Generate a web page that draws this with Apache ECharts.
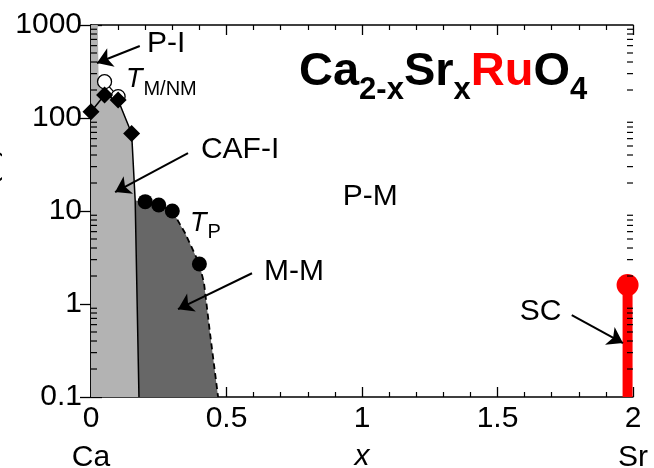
<!DOCTYPE html>
<html>
<head>
<meta charset="utf-8">
<script src="https://cdn.jsdelivr.net/npm/echarts@6/dist/echarts.min.js"></script>
<style>
html,body{margin:0;padding:0;background:#fff;}
#c{width:654px;height:468px;}
</style>
</head>
<body>
<div id="c"></div>
<script>
// ---- data ----
const xTickLabels = ['0', '0.5', '1', '1.5', '2'];
const yTickLabels = ['0.1', '1', '10', '100', '1000'];
// T_M/NM (filled diamonds)
const tmnmX = [0, 0.05, 0.1, 0.15];
const tmnmT = [117, 177, 156, 68];
// open circles
const openX = [0.05, 0.1];
const openT = [246, 170];
// T_P (filled circles)
const tpX = [0.2, 0.25, 0.3, 0.4];
const tpT = [12.6, 11.6, 10, 2.69];
// CAF-I boundary (solid)
const cafX = [0, 0.05, 0.1, 0.15, 0.163, 0.177];
const cafT = [117, 177, 156, 68, 13, 0.1];
// T_P dashed continuation
const tpDashX = [0.3, 0.347, 0.4, 0.417, 0.439, 0.469];
const tpDashT = [10, 5.8, 2.69, 1.68, 0.49, 0.1];
// light gray region (P-I strip + CAF-I)
const lightX = [0, 0.025, 0.028, 0.05, 0.1, 0.15, 0.163, 0.177, 0];
const lightT = [1000, 1000, 260, 177, 156, 68, 13, 0.1, 0.1];
// dark gray region (M-M)
const darkX = [0.163, 0.2, 0.25, 0.3, 0.347, 0.4, 0.417, 0.439, 0.469, 0.177];
const darkT = [13, 12.6, 11.6, 10, 5.8, 2.69, 1.68, 0.49, 0.1, 0.1];
// SC (Sr2RuO4)
const scX = [1.98, 1.98];
const scT = [0.1, 1.6];
// log minor tick multipliers
const minorMult = [2, 3, 4, 5, 6, 7, 8, 9];
const decades = [0.1, 1, 10, 100];

const zip = (xs, ys) => xs.map((x, i) => [x, ys[i]]);
const minorVals = [];
decades.forEach(d => minorMult.forEach(m => minorVals.push(+(d * m).toPrecision(3))));

const FONT = 'Liberation Sans, Arial, Helvetica, sans-serif';

const chart = echarts.init(document.getElementById('c'), null, {renderer: 'canvas'});

function polySeries(xs, ys, color, z) {
  return {
    type: 'custom', z: z, silent: true, clip: true,
    data: [[xs[0], ys[0]]],
    renderItem: function (params, api) {
      const pts = zip(xs, ys).map(p => api.coord(p));
      return {type: 'polygon', shape: {points: pts}, style: {fill: color, stroke: 'none'}};
    }
  };
}

function textSeries(x, y, text, rich, align, z) {
  return {
    type: 'custom', z: z || 10, silent: true, clip: false,
    data: [[x, y]],
    renderItem: function (params, api) {
      const p = api.coord([api.value(0), api.value(1)]);
      return {type: 'text', x: p[0], y: p[1],
        style: {text: text, rich: rich, align: align || 'center', verticalAlign: 'middle',
          fontFamily: FONT, fontSize: 30, fill: '#000'}};
    }
  };
}

const arrowData = [
  {coords: [[0.18, 595], [0.022, 390]]},
  {coords: [[0.358, 42], [0.089, 16]]},
  {coords: [[0.594, 2.14], [0.321, 0.88]]},
  {coords: [[1.774, 0.76], [1.963, 0.38]]}
];

const axisLine = {show: true, lineStyle: {color: '#000', width: 1.5}};

const option = {
  animation: false,
  backgroundColor: '#fff',
  textStyle: {fontFamily: FONT},
  title: {
    text: '{b|Ca}{s|2-x}{b|Sr}{s|x}{r|Ru}{b|O}{s|4}',
    left: 294, top: 44,
    textStyle: {
      rich: {
        b: {fontSize: 47, fontWeight: 'bold', color: '#000', fontFamily: FONT, lineHeight: 50, verticalAlign: 'top'},
        r: {fontSize: 47, fontWeight: 'bold', color: '#ff0000', fontFamily: FONT, lineHeight: 50, verticalAlign: 'top'},
        s: {fontSize: 31, fontWeight: 'bold', color: '#000', fontFamily: FONT, lineHeight: 34, padding: [26, 0, 0, 0], verticalAlign: 'top'}
      }
    }
  },
  grid: {left: 91, right: 21, top: 25, bottom: 71, containLabel: false, outerBoundsMode: 'none'},
  xAxis: [
    {
      type: 'value', min: 0, max: 2, interval: 0.5, position: 'bottom',
      axisLine: axisLine,
      axisTick: {show: true, inside: true, length: 10, lineStyle: {color: '#000', width: 1.3}},
      minorTick: {show: true, splitNumber: 5, length: 5, lineStyle: {color: '#000', width: 1.2}},
      splitLine: {show: false}, minorSplitLine: {show: false},
      axisLabel: {
        margin: 6, color: '#000', fontSize: 30, fontFamily: FONT,
        formatter: function (v) {
          const i = Math.round(v / 0.5);
          const t = xTickLabels[i];
          if (v === 0) return '{n|' + t + '}\n{e|Ca}';
          if (v === 2) return '{n|' + t + '}\n{e|Sr}';
          return '{n|' + t + '}';
        },
        rich: {
          n: {fontSize: 30, fontFamily: FONT, color: '#000', lineHeight: 32},
          e: {fontSize: 30, fontFamily: FONT, color: '#000', lineHeight: 46}
        }
      },
      name: 'x', nameLocation: 'middle', nameGap: 45, nameMoveOverlap: false,
      nameTextStyle: {fontSize: 30, fontStyle: 'italic', fontFamily: FONT, color: '#000'}
    },
    {
      type: 'value', min: 0, max: 2, interval: 0.5, position: 'top',
      axisLine: axisLine,
      axisTick: {show: true, inside: true, length: 10, lineStyle: {color: '#000', width: 1.3}},
      minorTick: {show: true, splitNumber: 5, length: 5, lineStyle: {color: '#000', width: 1.2}},
      splitLine: {show: false}, axisLabel: {show: false}
    }
  ],
  yAxis: [
    {
      type: 'log', logBase: 10, min: 0.1, max: 1000, position: 'left',
      axisLine: axisLine,
      axisTick: {show: true, inside: true, length: 11, lineStyle: {color: '#000', width: 1.3}},
      splitLine: {show: false},
      axisLabel: {
        margin: 9, color: '#000', fontSize: 30, fontFamily: FONT,
        formatter: function (v) {
          const i = Math.round(Math.log10(v)) + 1;
          return yTickLabels[i];
        }
      },
      name: 'T (K)', nameLocation: 'middle', nameRotate: 90, nameGap: 88, nameMoveOverlap: false,
      nameTextStyle: {fontSize: 30, fontFamily: FONT, color: '#000', padding: [0, 0, 0, 62]}
    },
    {
      type: 'log', logBase: 10, min: 0.1, max: 1000, position: 'right',
      axisLine: axisLine,
      axisTick: {show: true, inside: true, length: 11, lineStyle: {color: '#000', width: 1.3}},
      splitLine: {show: false}, axisLabel: {show: false}
    }
  ],
  series: [
    polySeries(lightX, lightT, '#b3b3b3', 1),
    polySeries(darkX, darkT, '#676767', 2),
    {
      type: 'line', z: 3, data: zip(cafX, cafT), showSymbol: false, symbol: 'none',
      lineStyle: {color: '#000', width: 1.5}, silent: true
    },
    {
      type: 'line', z: 3, data: zip(openX, openT), showSymbol: false, symbol: 'none',
      lineStyle: {color: '#000', width: 1.3}, silent: true
    },
    {
      type: 'line', z: 3, data: zip(tpX.slice(0, 3), tpT.slice(0, 3)), showSymbol: false, symbol: 'none',
      lineStyle: {color: '#000', width: 1.5}, silent: true
    },
    {
      type: 'line', z: 3, data: zip(tpDashX, tpDashT), showSymbol: false, symbol: 'none',
      lineStyle: {color: '#000', width: 1.8, type: [6, 4]}, silent: true
    },
    {
      type: 'scatter', z: 5, data: zip(openX, openT), symbol: 'circle', symbolSize: 14,
      itemStyle: {color: '#fff', borderColor: '#000', borderWidth: 1.3, opacity: 1}, silent: true
    },
    {
      type: 'scatter', z: 6, data: zip(tmnmX, tmnmT), symbol: 'diamond', symbolSize: [17, 17],
      itemStyle: {color: '#000', opacity: 1}, silent: true, clip: false
    },
    {
      type: 'scatter', z: 6, data: zip(tpX, tpT), symbol: 'circle', symbolSize: 15,
      itemStyle: {color: '#000', opacity: 1}, silent: true
    },
    {
      type: 'line', z: 7, data: zip(scX, scT), showSymbol: false, symbol: 'none',
      lineStyle: {color: '#ff0000', width: 10, cap: 'butt'}, silent: true
    },
    {
      type: 'scatter', z: 8, data: [[scX[1], scT[1]]], symbol: 'circle', symbolSize: 22,
      itemStyle: {color: '#ff0000', opacity: 1}, silent: true
    },
    {
      type: 'lines', coordinateSystem: 'cartesian2d', z: 9, silent: true,
      data: arrowData, symbol: ['none', 'arrow'], symbolSize: [1, 15],
      lineStyle: {color: '#000', width: 2, opacity: 1}
    },
    {
      type: 'custom', z: 9, silent: true, clip: false,
      data: minorVals.map(v => [0, v]),
      renderItem: function (params, api) {
        const v = api.value(1);
        const pL = api.coord([0, v]);
        const pR = api.coord([2, v]);
        return {type: 'group', children: [
          {type: 'line', shape: {x1: pL[0], y1: pL[1], x2: pL[0] + 6, y2: pL[1]}, style: {stroke: '#000', lineWidth: 1.2}},
          {type: 'line', shape: {x1: pR[0], y1: pR[1], x2: pR[0] - 6, y2: pR[1]}, style: {stroke: '#000', lineWidth: 1.2}}
        ]};
      }
    },
    textSeries(0.277, 625, 'P-I', null, 'center'),
    textSeries(0.129, 250, '{t|T}{s|M/NM}', {
      t: {fontSize: 27, fontStyle: 'italic', fontFamily: FONT, fill: '#000', lineHeight: 30, verticalAlign: 'top'},
      s: {fontSize: 20, fontFamily: FONT, fill: '#000', lineHeight: 20, padding: [13, 0, 0, 1], verticalAlign: 'top'}
    }, 'left'),
    textSeries(0.55, 45.3, 'CAF-I', null, 'center'),
    textSeries(1.03, 14.2, 'P-M', null, 'center'),
    textSeries(0.365, 7.1, '{t|T}{s|P}', {
      t: {fontSize: 27, fontStyle: 'italic', fontFamily: FONT, fill: '#000', lineHeight: 30, verticalAlign: 'top'},
      s: {fontSize: 20, fontFamily: FONT, fill: '#000', lineHeight: 20, padding: [13, 0, 0, 1], verticalAlign: 'top'}
    }, 'left'),
    textSeries(0.749, 2.21, 'M-M', null, 'center'),
    textSeries(1.659, 0.82, 'SC', null, 'center')
  ]
};
chart.setOption(option);
</script>
</body>
</html>
